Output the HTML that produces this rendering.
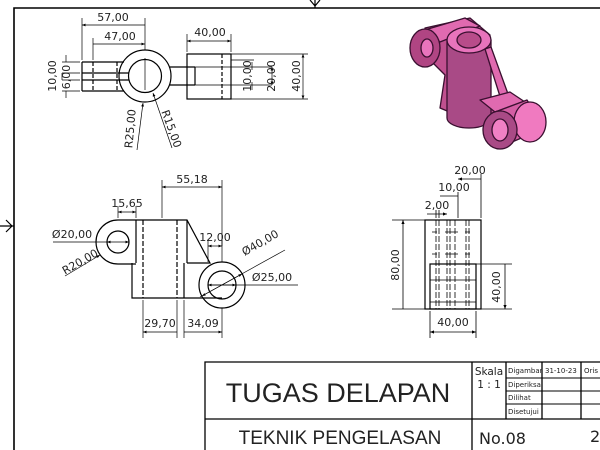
<!DOCTYPE html>
<html><head><meta charset="utf-8"><style>
html,body{margin:0;padding:0;background:#fff}
svg{display:block}
text{font-family:"DejaVu Sans","Liberation Sans",sans-serif;fill:#222}
</style></head><body>
<svg width="600" height="450" viewBox="0 0 600 450" xmlns="http://www.w3.org/2000/svg">
<defs>
<marker id="a" viewBox="0 0 10 10" refX="10" refY="5" markerWidth="6" markerHeight="5" orient="auto-start-reverse"><path d="M0,1 L10,5 L0,9z" fill="#000"/></marker>
</defs>
<g stroke="#000" fill="none">
<path d="M14,450 V8 H600" stroke-width="1.6"/>
<path d="M310,0 L315,6 L320,0 M315,0 V8" stroke-width="1.2"/>
<path d="M6,220 L12,226 L6,232 M0,226 H14" stroke-width="1.2"/>
</g>

<!-- TOP VIEW -->
<g stroke="#000" fill="none" stroke-width="1.2">
<circle cx="145" cy="76" r="26"/>
<circle cx="145" cy="76" r="16.5"/>
<path d="M82,62 H124 M82,91 H124 M82,62 V91"/>
<path d="M82,73 H129 M82,80 H129" />
<path d="M93,62 V91 M117,62 V91" stroke-dasharray="4,2"/>
<rect x="187" y="54" width="44" height="45"/>
<path d="M170,67 H195 M170,85 H195 M195,67 V85"/>
<path d="M222,54 V99" stroke-dasharray="4,2"/>
<path d="M145,58 V90" stroke-width="0.7"/>
</g>
<g stroke="#000" fill="none" stroke-width="0.7">
<path d="M82,60 V18 M145,50 V18 M93,60 V38"/>
<path d="M82,25 H145 M93,44 H145" marker-start="url(#a)" marker-end="url(#a)"/>
<path d="M187,52 V34 M231,52 V34"/>
<path d="M187,41 H231" marker-start="url(#a)" marker-end="url(#a)"/>
<path d="M231,54 H308 M231,99 H308 M195,67 H272 M195,85 H272 M231,60 H254"/>
<path d="M303,54 V99" marker-start="url(#a)" marker-end="url(#a)"/>
<path d="M272,67 V85" marker-start="url(#a)" marker-end="url(#a)"/>
<path d="M252,62 V70 M252,82 V90"/>
<path d="M80,62 H62 M80,91 H62 M80,73 H62 M80,80 H62"/>
<path d="M66,55 V62 M66,91 V98 M62,73 V80" />
<path d="M137,150 L143,103" marker-end="url(#a)"/>
<path d="M172,148 L153,93" marker-end="url(#a)"/>
</g>
<g font-size="11">
<text x="113" y="21" text-anchor="middle">57,00</text>
<text x="120" y="40" text-anchor="middle">47,00</text>
<text x="210" y="36" text-anchor="middle">40,00</text>
<text transform="translate(56,76) rotate(-90)" text-anchor="middle">10,00</text>
<text transform="translate(70,77) rotate(-90)" text-anchor="middle">6,00</text>
<text transform="translate(251,76) rotate(-90)" text-anchor="middle">10,00</text>
<text transform="translate(275,76) rotate(-90)" text-anchor="middle">20,00</text>
<text transform="translate(300,76) rotate(-90)" text-anchor="middle">40,00</text>
<text transform="translate(134,129) rotate(-85)" text-anchor="middle">R25,00</text>
<text transform="translate(168,130) rotate(70)" text-anchor="middle">R15,00</text>
</g>

<!-- FRONT VIEW -->
<g stroke="#000" fill="none" stroke-width="1.2">
<path d="M118,220 H187 L210,263 H187 M187,220 V263 M136,220 V263 M118,264 H136 M132,263 V298 H222 M184,263 V298"/>
<path d="M118,220 A22,22 0 0 0 118,264"/>
<circle cx="118" cy="242" r="11"/>
<circle cx="222" cy="285" r="23"/>
<circle cx="222" cy="285" r="14"/>
<path d="M143,220 V298 M177,220 V298" stroke-dasharray="5,2"/>
</g>
<g stroke="#000" fill="none" stroke-width="0.7">
<path d="M162,218 V180 M222,262 V180"/>
<path d="M162,187 H222" marker-start="url(#a)" marker-end="url(#a)"/>
<path d="M118,218 V206 M136,218 V206"/>
<path d="M118,212 H136" marker-start="url(#a)" marker-end="url(#a)"/>
<path d="M208,262 V240 M222,240 V246"/>
<path d="M208,246 H222" marker-start="url(#a)" marker-end="url(#a)"/>
<path d="M53,242 H107" /><path d="M107,242 H129" marker-start="url(#a)" marker-end="url(#a)"/>
<path d="M65,276 L100,255" marker-end="url(#a)"/>
<path d="M200,297 L285,250"/><path d="M202,296 L242,274" marker-start="url(#a)" marker-end="url(#a)"/>
<path d="M208,285 H298"/><path d="M208,285 H236" marker-start="url(#a)" marker-end="url(#a)"/>
<path d="M143,300 V338 M177,300 V338 M184,300 V338 M222,308 V338"/>
<path d="M143,332 H177 M184,332 H222" marker-start="url(#a)" marker-end="url(#a)"/>
</g>
<g font-size="11">
<text x="192" y="183" text-anchor="middle">55,18</text>
<text x="127" y="207" text-anchor="middle">15,65</text>
<text x="215" y="241" text-anchor="middle">12,00</text>
<text x="72" y="238" text-anchor="middle">Ø20,00</text>
<text transform="translate(82,265) rotate(-30)" text-anchor="middle">R20,00</text>
<text transform="translate(262,246) rotate(-30)" text-anchor="middle">Ø40,00</text>
<text x="272" y="281" text-anchor="middle">Ø25,00</text>
<text x="160" y="327" text-anchor="middle">29,70</text>
<text x="203" y="327" text-anchor="middle">34,09</text>
</g>

<!-- SIDE VIEW -->
<g stroke="#000" fill="none" stroke-width="1.2">
<rect x="425" y="220" width="56" height="89"/>
<rect x="430" y="264" width="46" height="45"/>
</g>
<g stroke="#000" fill="none" stroke-width="0.8" stroke-dasharray="6,2">
<path d="M436,220 V309 M439,220 V309 M447,220 V309 M450,220 V309 M455,220 V309 M466,220 V309 M469,220 V309"/>
</g>
<g stroke="#000" fill="none" stroke-width="0.8">
<path d="M432,232 H437 M445,232 H458 M465,232 H470 M432,254 H437 M445,254 H458 M465,254 H470 M430,280 H476 M430,302 H476"/>
<path d="M392,220 H425 M392,309 H425 M476,264 H512 M481,309 H512"/>
<path d="M403,220 V309 M505,264 V309" marker-start="url(#a)" marker-end="url(#a)"/>
<path d="M430,311 V338 M476,311 V338"/>
<path d="M430,332 H476" marker-start="url(#a)" marker-end="url(#a)"/>
<path d="M481,218 V174 M458,218 V192 M436,218 V210 M439,218 V210"/>
<path d="M458,179 H481 M440,196 H458 M427,214 H447" marker-start="url(#a)" marker-end="url(#a)"/>
</g>
<g font-size="11">
<text transform="translate(399,265) rotate(-90)" text-anchor="middle">80,00</text>
<text transform="translate(500,287) rotate(-90)" text-anchor="middle">40,00</text>
<text x="453" y="326" text-anchor="middle">40,00</text>
<text x="470" y="174" text-anchor="middle">20,00</text>
<text x="454" y="191" text-anchor="middle">10,00</text>
<text x="437" y="209" text-anchor="middle">2,00</text>
</g>

<!-- ISO -->
<g stroke="#3a1030" stroke-width="1.3" stroke-linejoin="round">
<path d="M425,28 L470,18 L490,35 L490,108 L505,118 L478,124 L440,108 L445,75 L430,60 Z" fill="#c0508f"/>
<path d="M418,32 L465,18 L480,26 L440,42 Z" fill="#e06ab0"/>
<ellipse cx="425" cy="48" rx="15" ry="19" fill="#b04583"/>
<ellipse cx="427" cy="48" rx="6" ry="9" fill="#e874bc"/>
<path d="M447,40 V118 A22,10 0 0 0 491,118 V40 Z" fill="#a94a86"/>
<ellipse cx="469" cy="40" rx="22" ry="13" fill="#e874bc"/>
<ellipse cx="469" cy="40" rx="12" ry="8" fill="#b84c8a"/>
<path d="M485,49 L491,47 L512,105 L504,109 Z" fill="#e06ab0"/>
<path d="M480,100 L510,92 L525,102 L495,112 Z" fill="#e06ab0"/>
<path d="M495,112 L527,100 L545,128 L512,142 Z" fill="#d45ea4"/>
<ellipse cx="530" cy="122" rx="16" ry="20" fill="#f07ac0"/>
<ellipse cx="500" cy="130" rx="17" ry="19" fill="#a94a86"/>
<ellipse cx="500" cy="130" rx="8" ry="11" fill="#f080c4"/>
</g>

<!-- TITLE BLOCK -->
<g stroke="#000" fill="none" stroke-width="1.3">
<path d="M205,450 V362 H600 M205,419 H600 M472,362 V450 M506,362 V419 M542,362 V419 M581,362 V419"/>
<path d="M506,378 H600 M506,391 H600 M506,404 H600" stroke-width="0.9"/>
</g>
<text x="338" y="402" text-anchor="middle" font-size="27" style="font-family:'Liberation Sans',sans-serif">TUGAS DELAPAN</text>
<text x="340" y="444" text-anchor="middle" font-size="19" style="font-family:'Liberation Sans',sans-serif">TEKNIK PENGELASAN</text>
<text x="489" y="375" text-anchor="middle" font-size="10.5">Skala</text>
<text x="489" y="388" text-anchor="middle" font-size="10.5">1 : 1</text>
<g font-size="7" style="font-family:'Liberation Sans',sans-serif">
<text x="508" y="373">Digambar</text>
<text x="545" y="373">31-10-23</text>
<text x="584" y="373">Oris</text>
<text x="508" y="387">Diperiksa</text>
<text x="508" y="400">Dilihat</text>
<text x="508" y="414">Disetujui</text>
</g>
<text x="479" y="444" font-size="16">No.08</text>
<text x="590" y="442" font-size="16">2-</text>
</svg>
</body></html>
